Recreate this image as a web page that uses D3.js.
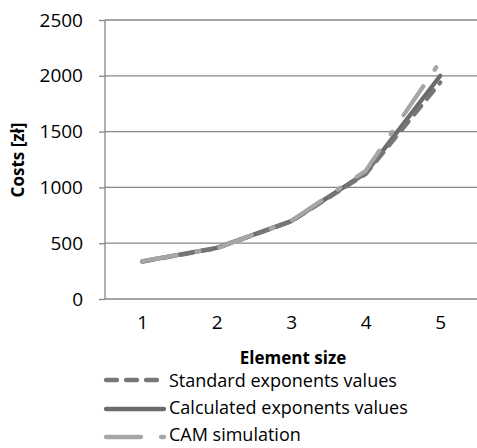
<!DOCTYPE html>
<html><head><meta charset="utf-8">
<script src="https://cdn.jsdelivr.net/npm/d3@7"></script>
<style>body{margin:0;background:#fff}svg{display:block}text{font-family:"Open Sans",sans-serif;fill:#000}</style>
</head><body>
<script>
const categories = ["1","2","3","4","5"];
const yTicks = [0,500,1000,1500,2000,2500];
const standardValues = [335,455,695,1120,1940];
const calculatedValues = [338,458,698,1130,2000];
const camValues = [340,455,700,1150,2130];
const seriesNames = ["Standard exponents values","Calculated exponents values","CAM simulation"];

const W=477,H=448;
const svg=d3.select("body").append("svg").attr("width",W).attr("height",H);
const x=d3.scalePoint().domain(categories).range([105,477.5]).padding(0.5);
const y=d3.scaleLinear().domain([0,2500]).range([299,20]);
const grid="#868686";

svg.append("g").selectAll("line").data(yTicks.slice(1)).join("line")
  .attr("x1",105).attr("x2",477).attr("y1",d=>y(d)).attr("y2",d=>y(d))
  .attr("stroke",grid).attr("stroke-width",1.3);

const ya=svg.append("g").attr("transform","translate(105,0)")
  .call(d3.axisLeft(y).tickValues(yTicks).tickSize(6).tickPadding(16).tickFormat(d3.format("d")));
ya.select(".domain").attr("stroke",grid).attr("stroke-width",1.3).attr("d","M0,20V299");
ya.selectAll(".tick line").attr("stroke",grid).attr("stroke-width",1.3);
ya.selectAll("text").style("font-size","19px").attr("fill","#000");

const xa=svg.append("g").attr("transform","translate(0,299)")
  .call(d3.axisBottom(x).tickSize(0).tickPadding(17));
xa.select(".domain").attr("stroke",grid).attr("stroke-width",1.3).attr("d","M105,0H477");
xa.selectAll("text").style("font-size","19px").attr("fill","#000");

svg.append("text").attr("transform","translate(24,160) rotate(-90)").attr("text-anchor","middle")
  .style("font-size","17px").style("font-weight","bold").text("Costs [zł]");
svg.append("text").attr("x",293).attr("y",364).attr("text-anchor","middle")
  .style("font-size","17px").style("font-weight","bold").text("Element size");

const styles=[
  {color:"#767676",dash:"11,9"},
  {color:"#6b6b6b",dash:null},
  {color:"#a6a6a6",dash:"35,20,3,20"}
];
const data=[standardValues,calculatedValues,camValues];
const line=d3.line().x((d,i)=>x(categories[i])).y(d=>y(d));
[1,0,2].forEach(k=>{
  svg.append("path").attr("d",line(data[k])).attr("fill","none")
    .attr("stroke",styles[k].color).attr("stroke-width",4.3)
    .attr("stroke-linecap","round").attr("stroke-linejoin","round")
    .attr("stroke-dasharray",styles[k].dash);
});

const ly=[380,409,437];
const ty=[381,408,435];
seriesNames.forEach((n,i)=>{
  svg.append("line").attr("x1",106).attr("x2",164).attr("y1",ly[i]).attr("y2",ly[i])
    .attr("stroke",styles[i].color).attr("stroke-width",4.3).attr("stroke-linecap","round")
    .attr("stroke-dasharray",styles[i].dash);
  svg.append("text").attr("x",169).attr("y",ty[i]).attr("dy","0.35em")
    .style("font-size","18px").text(n);
});
</script>
</body></html>
